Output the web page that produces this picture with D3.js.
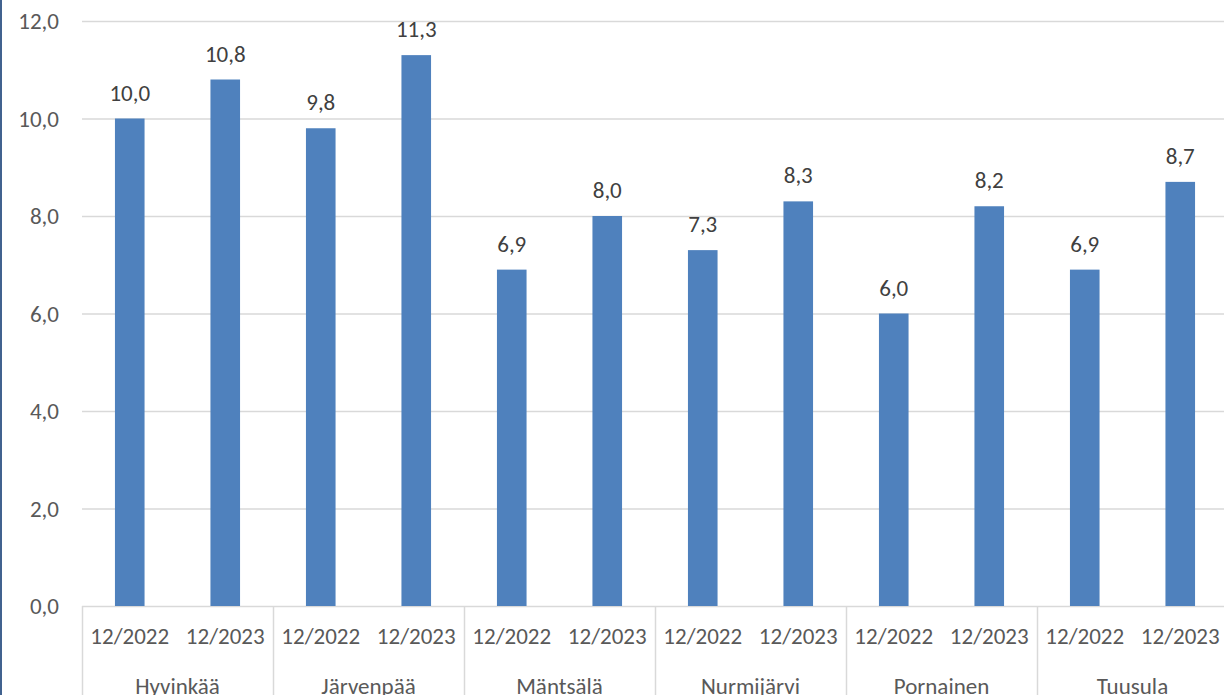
<!DOCTYPE html>
<html>
<head>
<meta charset="utf-8">
<script src="https://cdn.jsdelivr.net/npm/d3@7"></script>
<style>
  html, body { margin: 0; padding: 0; background: #fff; overflow: hidden; }
  svg text { font-family: Carlito, Calibri, Lato, sans-serif; }
</style>
</head>
<body>
<svg id="chart" width="1224" height="695"></svg>
<script>
// data
var municipalities = ["Hyvinkää", "Järvenpää", "Mäntsälä", "Nurmijärvi", "Pornainen", "Tuusula"];
var periods = ["12/2022", "12/2023"];
var values2022 = [10.0, 9.8, 6.9, 7.3, 6.0, 6.9];
var values2023 = [10.8, 11.3, 8.0, 8.3, 8.2, 8.7];
var yTicks = [0, 2, 4, 6, 8, 10, 12];

var rows = [];
municipalities.forEach(function (m, i) {
  rows.push({ group: m, period: periods[0], value: values2022[i] });
  rows.push({ group: m, period: periods[1], value: values2023[i] });
});

var svg = d3.select("#chart"),
    plotLeft = 82, plotRight = 1228, plotTop = 21, plotBottom = 606,
    fontSize = "23px";

var fmt = function (v) { return d3.format(".1f")(v).replace(".", ","); };

var x0 = d3.scaleBand().domain(municipalities).range([plotLeft, plotRight]).padding(0);
var x1 = d3.scaleBand().domain(periods).range([0, x0.bandwidth()]).paddingInner(0.69).paddingOuter(0.345);
var y = d3.scaleLinear().domain([0, 12]).range([plotBottom, plotTop]);

// left frame edge
svg.append("rect").attr("x", 0).attr("y", 0).attr("width", 2).attr("height", 695).attr("fill", "#41628f");

// grid
svg.append("g").selectAll("line").data(yTicks).enter().append("line")
  .attr("x1", plotLeft).attr("x2", 1224)
  .attr("y1", function (d) { return y(d) + 0.5; }).attr("y2", function (d) { return y(d) + 0.5; })
  .attr("stroke", "#d9d9d9").attr("stroke-width", 1.5);

// y labels
svg.append("g").selectAll("text").data(yTicks).enter().append("text")
  .attr("x", 59).attr("y", function (d) { return y(d); })
  .attr("dy", "0.35em").attr("text-anchor", "end")
  .attr("fill", "#595959").style("font-size", fontSize)
  .text(fmt);

// bars
svg.append("g").selectAll("rect").data(rows).enter().append("rect")
  .attr("x", function (d) { return x0(d.group) + x1(d.period); })
  .attr("width", x1.bandwidth())
  .attr("y", function (d) { return y(d.value); })
  .attr("height", function (d) { return y(0) - y(d.value); })
  .attr("fill", "#4f81bd");

// value labels
svg.append("g").selectAll("text").data(rows).enter().append("text")
  .attr("x", function (d) { return x0(d.group) + x1(d.period) + x1.bandwidth() / 2; })
  .attr("y", function (d) { return y(d.value) - 18; })
  .attr("text-anchor", "middle")
  .attr("fill", "#404040").style("font-size", fontSize)
  .text(function (d) { return fmt(d.value); });

// category axis dividers
var bounds = municipalities.map(function (m) { return x0(m); }).concat([plotRight]);
svg.append("g").selectAll("line").data(bounds).enter().append("line")
  .attr("x1", function (d) { return d + 0.5; }).attr("x2", function (d) { return d + 0.5; })
  .attr("y1", plotBottom).attr("y2", 695)
  .attr("stroke", "#d9d9d9").attr("stroke-width", 1.5);

// period labels
svg.append("g").selectAll("text").data(rows).enter().append("text")
  .attr("x", function (d) { return x0(d.group) + x1(d.period) + x1.bandwidth() / 2; })
  .attr("y", 636).attr("dy", "0.35em").attr("text-anchor", "middle")
  .attr("fill", "#595959").style("font-size", fontSize)
  .text(function (d) { return d.period; });

// municipality labels
svg.append("g").selectAll("text").data(municipalities).enter().append("text")
  .attr("x", function (d) { return x0(d) + x0.bandwidth() / 2; })
  .attr("y", 686).attr("dy", "0.35em").attr("text-anchor", "middle")
  .attr("fill", "#595959").style("font-size", fontSize)
  .text(function (d) { return d; });
</script>
</body>
</html>
